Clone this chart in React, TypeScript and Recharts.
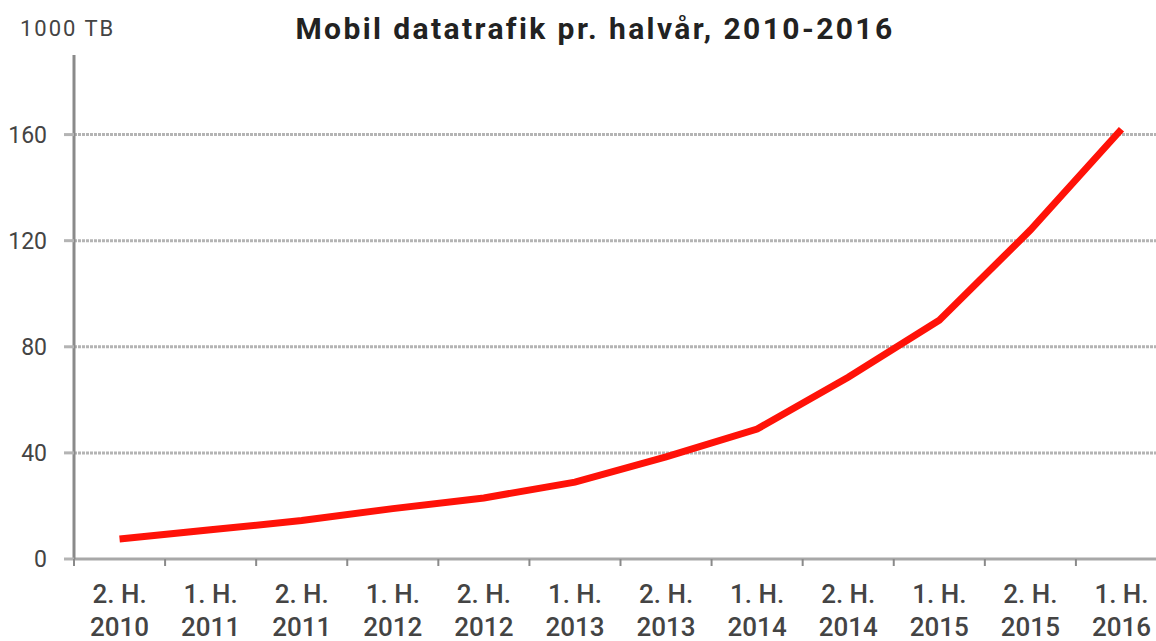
import React from 'react';
import { LineChart, Line, XAxis, YAxis, CartesianGrid } from 'recharts';

const halves = ['2. H.', '1. H.', '2. H.', '1. H.', '2. H.', '1. H.', '2. H.', '1. H.', '2. H.', '1. H.', '2. H.', '1. H.'];
const years = ['2010', '2011', '2011', '2012', '2012', '2013', '2013', '2014', '2014', '2015', '2015', '2016'];
const traffic = [7.5, 11, 14.5, 19, 23, 29, 38.5, 49, 68.5, 90, 124, 162];
const yTicks = [0, 40, 80, 120, 160];
const gridValues = [40, 80, 120, 160];

const data = halves.map((h, i) => ({ period: `${h}|${years[i]}`, value: traffic[i] }));

const CHART_W = 1180;
const CHART_H = 641;
const MARGIN = { top: 55, right: 13, bottom: 0, left: 0 };
const Y_W = 74;
const X_H = 82;
const PLOT_W = CHART_W - MARGIN.left - MARGIN.right - Y_W;
const STEP = PLOT_W / halves.length;
const FONT = 'Roboto, "DejaVu Sans", sans-serif';

const XTick = (props: any) => {
  const { x, y, payload } = props;
  const [h, yr] = String(payload.value).split('|');
  return (
    <g>
      <line x1={x - STEP / 2} x2={x - STEP / 2} y1={y} y2={y + 7} stroke="#8a8a8a" strokeWidth={2} />
      <text x={x} y={y + 44} textAnchor="middle" fontSize={26} fontWeight={500} fill="#444" fontFamily={FONT}>
        {h}
      </text>
      <text x={x} y={y + 77} textAnchor="middle" fontSize={26} fontWeight={500} fill="#444" fontFamily={FONT}>
        {yr}
      </text>
    </g>
  );
};

export default function App() {
  return (
    <div style={{ position: 'absolute', left: 0, top: 0, width: 1156, height: 641, overflow: 'hidden', background: '#fff' }}>
      <div
        style={{
          position: 'absolute', left: 0, top: 14, width: 1190, textAlign: 'center',
          fontFamily: FONT, fontSize: 30, fontWeight: 700, lineHeight: 1, color: '#222', letterSpacing: 2.4,
        }}
      >
        Mobil datatrafik pr. halvår, 2010-2016
      </div>
      <div
        style={{
          position: 'absolute', left: 20, top: 18, fontFamily: FONT, fontSize: 22, lineHeight: 1,
          color: '#444', letterSpacing: 2,
        }}
      >
        1000 TB
      </div>
      <LineChart width={CHART_W} height={CHART_H} data={data} margin={MARGIN}>
        <CartesianGrid
          vertical={false}
          horizontalValues={gridValues}
          stroke="#b4b4b4"
          strokeWidth={3}
          strokeDasharray="3 1"
        />
        <XAxis
          dataKey="period"
          height={X_H}
          padding={{ left: STEP / 2, right: STEP / 2 }}
          axisLine={{ stroke: '#a8a8a8', strokeWidth: 3 }}
          tickLine={false}
          tickSize={0}
          tickMargin={0}
          tick={<XTick />}
          interval={0}
        />
        <YAxis
          width={Y_W}
          domain={[0, 190]}
          ticks={yTicks}
          allowDataOverflow
          axisLine={{ stroke: '#8a8a8a', strokeWidth: 3 }}
          tickLine={{ stroke: '#b4b4b4', strokeWidth: 3 }}
          tickSize={10}
          tickMargin={17}
          tick={{ fontSize: 23, fill: '#444', fontFamily: FONT }}
        />
        <Line
          type="linear"
          dataKey="value"
          stroke="#ff1208"
          strokeWidth={7}
          dot={false}
          activeDot={false}
          isAnimationActive={false}
        />
      </LineChart>
    </div>
  );
}
